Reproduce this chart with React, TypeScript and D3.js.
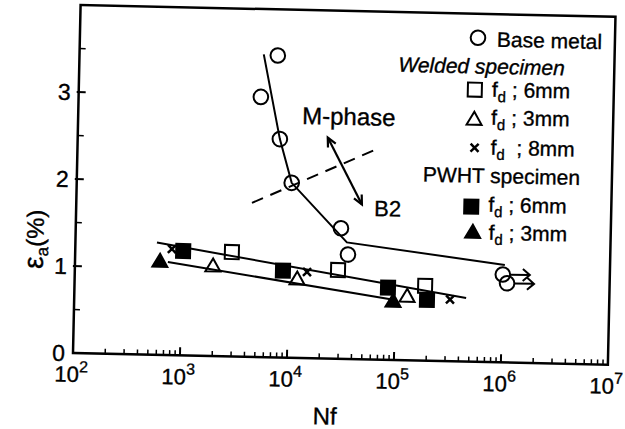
import React from 'react'
import * as d3 from 'd3'

// Base metal (open circles); last two are run-outs
const baseN = [7130, 5050, 7750, 10200, 30100, 35400, 1.0e6, 1.1e6]
const baseE = [3.47, 2.99, 2.51, 2.01, 1.5, 1.2, 1.01, 0.91]
const baseRunout = [false, false, false, false, false, false, true, true]

// Welded specimen
const weld6N = [2910, 28800, 189000]
const weld6E = [1.2, 1.02, 0.86]
const weld3N = [1950, 12000, 129000]
const weld3E = [1.03, 0.9, 0.73]
const weld8N = [800, 14800, 325000]
const weld8E = [1.22, 0.99, 0.71]

// PWHT specimen
const pwht6N = [1020, 8810, 85100, 198000]
const pwht6E = [1.2, 1.0, 0.83, 0.7]
const pwht3N = [622, 95600]
const pwht3E = [1.07, 0.67]

// fitted lines
const baseFitN = [5270, 7750, 10200, 34400, 1.04e6]
const baseFitE = [3.48, 2.51, 2.01, 1.34, 1.12]
const upperFitN = [578, 459000]
const upperFitE = [1.29, 0.73]
const lowerFitN = [738, 99500]
const lowerFitE = [1.07, 0.69]
const boundaryN = [4380, 62800]
const boundaryE = [1.77, 2.42]
const arrowN = [21700, 46700]
const arrowE = [2.54, 1.78]

const xDecades = [2, 3, 4, 5, 6, 7]
const yMajor = [0, 1, 2, 3]
const yMinor = [0.5, 1.5, 2.5, 3.5]

const FONT = '"Liberation Sans", Arial, sans-serif'
const width = 625
const height = 429
const left = 73
const right = 608
const top = 5
const bottom = 353
const tilt = 1.25 // the scanned figure is slightly rotated

const x = d3.scaleLog().domain([1e2, 1e7]).range([left, right])
const y = d3.scaleLinear().domain([0, 4]).range([bottom, top])

const line = d3
  .line<[number, number]>()
  .x((d) => x(d[0]))
  .y((d) => y(d[1]))

const zip = (a: number[], b: number[]): [number, number][] => a.map((v, i) => [v, b[i]])

const triPath = 'M0,-8L7.5,5L-7.5,5Z'

const OpenCircle = ({ cx, cy }: { cx: number; cy: number }) => (
  <circle cx={cx} cy={cy} r={7.3} fill="none" stroke="#000" strokeWidth={2} />
)
const Square = ({ cx, cy, filled }: { cx: number; cy: number; filled?: boolean }) => (
  <rect x={cx - 7} y={cy - 7} width={14} height={14} fill={filled ? '#000' : 'none'} stroke="#000" strokeWidth={2} />
)
const Tri = ({ cx, cy, filled }: { cx: number; cy: number; filled?: boolean }) => (
  <path d={triPath} transform={`translate(${cx},${cy})`} fill={filled ? '#000' : 'none'} stroke="#000" strokeWidth={2} strokeLinejoin="miter" />
)
const Cross = ({ cx, cy }: { cx: number; cy: number }) => (
  <path d={`M${cx - 4},${cy - 4}L${cx + 4},${cy + 4}M${cx - 4},${cy + 4}L${cx + 4},${cy - 4}`} stroke="#000" strokeWidth={2.5} />
)

const FdLabel = ({ tx, ty, mm, gap }: { tx: number; ty: number; mm: string; gap?: boolean }) => (
  <text x={tx} y={ty} fontSize={21} fontFamily={FONT} xmlSpace="preserve">
    <tspan>f</tspan>
    <tspan fontSize={15} dy={5}>d</tspan>
    <tspan dy={-5}>{gap ? '  ; ' : ' ; '}{mm}</tspan>
  </text>
)

export default function App() {
  const ax1 = x(arrowN[0])
  const ay1 = y(arrowE[0])
  const ax2 = x(arrowN[1])
  const ay2 = y(arrowE[1])
  const ang = Math.atan2(ay2 - ay1, ax2 - ax1)
  const head = (px: number, py: number, a: number) => {
    const l = 10
    const s = 0.45
    return `M${px - l * Math.cos(a - s)},${py - l * Math.sin(a - s)}L${px},${py}L${px - l * Math.cos(a + s)},${py - l * Math.sin(a + s)}`
  }

  const minorX: number[] = []
  for (let e = 2; e < 7; e++) for (let m = 2; m <= 9; m++) minorX.push(m * Math.pow(10, e))

  return (
    <svg width={width} height={height} style={{ position: 'absolute', left: 0, top: 0, background: '#fff' }}>
      <style>{'text { stroke: #000; stroke-width: 0.35px; }'}</style>
      <g transform={`rotate(${tilt}, ${left}, ${bottom})`}>
        {/* frame */}
        <rect x={left} y={top} width={right - left} height={bottom - top} fill="none" stroke="#000" strokeWidth={2.5} />

        {/* x ticks */}
        {xDecades.slice(1, -1).map((e) => (
          <line key={'xM' + e} x1={x(Math.pow(10, e))} x2={x(Math.pow(10, e))} y1={bottom} y2={bottom - 8} stroke="#000" strokeWidth={2} />
        ))}
        {minorX.map((v) => (
          <line key={'xm' + v} x1={x(v)} x2={x(v)} y1={bottom} y2={bottom - 5} stroke="#000" strokeWidth={1.5} />
        ))}
        {xDecades.map((e) => (
          <text key={'xl' + e} x={x(Math.pow(10, e)) - 18} y={382} fontSize={22} fontFamily={FONT}>
            10<tspan fontSize={16} dy={-10}>{e}</tspan>
          </text>
        ))}

        {/* y ticks */}
        {yMajor.map((v) => (
          <g key={'yM' + v}>
            {v > 0 && <line x1={left - 2} x2={left + 7} y1={y(v)} y2={y(v)} stroke="#000" strokeWidth={2} />}
            <text x={65} y={y(v)} dy="0.36em" textAnchor="end" fontSize={23} fontFamily={FONT}>
              {v}
            </text>
          </g>
        ))}
        {yMinor.map((v) => (
          <line key={'ym' + v} x1={left} x2={left + 6} y1={y(v)} y2={y(v)} stroke="#000" strokeWidth={1.5} />
        ))}

        {/* axis titles */}
        <text x={326} y={419} textAnchor="middle" fontSize={24} fontFamily={FONT}>
          Nf
        </text>
        <text transform="translate(41,240) rotate(-90)" textAnchor="middle" fontSize={24} fontFamily={FONT}>
          <tspan fontSize={28}>ε</tspan>
          <tspan fontSize={17} dy={5}>a</tspan>
          <tspan dy={-5}>(%)</tspan>
        </text>

        {/* fit lines */}
        <path d={line(zip(baseFitN, baseFitE)) || ''} fill="none" stroke="#000" strokeWidth={2} />
        <path d={line(zip(upperFitN, upperFitE)) || ''} fill="none" stroke="#000" strokeWidth={2} />
        <path d={line(zip(lowerFitN, lowerFitE)) || ''} fill="none" stroke="#000" strokeWidth={2} />
        <path d={line(zip(boundaryN, boundaryE)) || ''} fill="none" stroke="#000" strokeWidth={2} strokeDasharray="12,8" />

        {/* double arrow */}
        <line x1={ax1} y1={ay1} x2={ax2} y2={ay2} stroke="#000" strokeWidth={2.2} />
        <path d={head(ax2, ay2, ang)} fill="none" stroke="#000" strokeWidth={2.2} />
        <path d={head(ax1, ay1, ang + Math.PI)} fill="none" stroke="#000" strokeWidth={2.2} />
        <text x={x(12400)} y={y(2.69)} fontSize={24} fontFamily={FONT}>
          M-phase
        </text>
        <text x={x(61000)} y={y(1.65)} fontSize={22} fontFamily={FONT}>
          B2
        </text>

        {/* data */}
        {baseN.map((n, i) => (
          <g key={'b' + i}>
            <OpenCircle cx={x(n)} cy={y(baseE[i])} />
            {baseRunout[i] && (
              <path
                d={`M${x(n) + 7},${y(baseE[i])}L${x(n) + 27},${y(baseE[i])}M${x(n) + 20},${y(baseE[i]) - 6}L${x(n) + 27},${y(baseE[i])}L${x(n) + 20},${y(baseE[i]) + 6}`}
                fill="none"
                stroke="#000"
                strokeWidth={2}
              />
            )}
          </g>
        ))}
        {weld6N.map((n, i) => (
          <Square key={'w6' + i} cx={x(n)} cy={y(weld6E[i])} />
        ))}
        {weld3N.map((n, i) => (
          <Tri key={'w3' + i} cx={x(n)} cy={y(weld3E[i])} />
        ))}
        {weld8N.map((n, i) => (
          <Cross key={'w8' + i} cx={x(n)} cy={y(weld8E[i])} />
        ))}
        {pwht6N.map((n, i) => (
          <Square key={'p6' + i} cx={x(n)} cy={y(pwht6E[i])} filled />
        ))}
        {pwht3N.map((n, i) => (
          <Tri key={'p3' + i} cx={x(n)} cy={y(pwht3E[i])} filled />
        ))}

        {/* legend */}
        <g transform="translate(471,29)">
          <OpenCircle cx={0} cy={0} />
          <text x={19} y={8.6} fontSize={21} fontFamily={FONT}>
            Base metal
          </text>
          <text x={-79} y={35.7} fontSize={21} fontStyle="italic" fontFamily={FONT}>
            Welded specimen
          </text>
          <Square cx={-2} cy={52} />
          <FdLabel tx={15} ty={58.7} mm="6mm" />
          <Tri cx={-2} cy={82} />
          <FdLabel tx={15} ty={86.7} mm="3mm" />
          <Cross cx={-1} cy={110} />
          <FdLabel tx={15} ty={116.7} mm="8mm" gap />
          <text x={-52} y={145} fontSize={21} fontFamily={FONT}>
            PWHT specimen
          </text>
          <Square cx={-3} cy={169} filled />
          <FdLabel tx={14} ty={173.8} mm="6mm" />
          <Tri cx={-1} cy={195} filled />
          <FdLabel tx={15} ty={201.7} mm="3mm" />
        </g>
      </g>
    </svg>
  )
}
